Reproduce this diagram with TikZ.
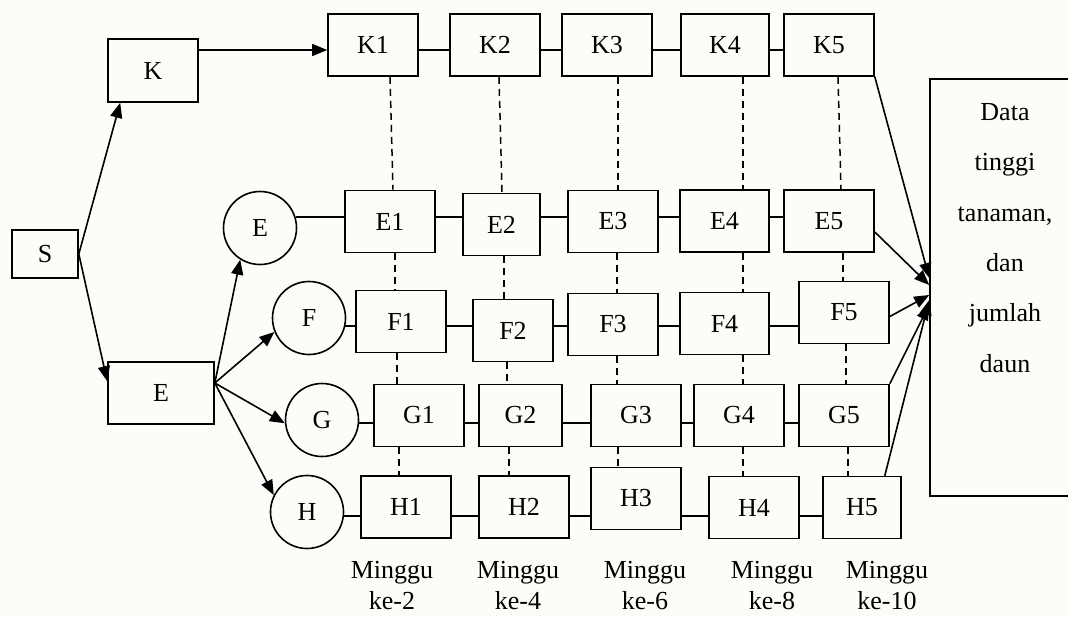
\documentclass[tikz,border=0pt]{standalone}
\usepackage{fontspec}
\setmainfont{Liberation Serif}
\usetikzlibrary{arrows.meta}
\definecolor{bgc}{RGB}{252,253,248}
\newcommand{\dashlink}[4]{\draw[dl] ([xshift=#2pt]#1.south) -- ([xshift=#4pt]#3.north);}
\begin{document}
\begin{tikzpicture}[x=1pt,y=-1pt,line width=1.6pt,
  font=\fontsize{26}{31}\selectfont,
  box/.style={draw, rectangle, minimum width=#1, minimum height=62pt, inner sep=0pt},
  box/.default=90pt,
  circ/.style={draw, circle, minimum size=73pt, inner sep=0pt},
  dl/.style={dash pattern=on 7pt off 5pt, line width=1.5pt},
  arr/.style={-{Triangle[length=15pt,width=12pt]}},
  lbl/.style={align=center, font=\fontsize{26}{31}\selectfont}]
\fill[bgc] (0,0) rectangle (1068,616);
\useasboundingbox (0,0) rectangle (1068,616);

% left part
\node[box=66pt, minimum height=48pt] (S) at (45,254) {S};
\node[box=90pt, minimum height=63pt] (K) at (153,70.5) {K};
\node[box=106pt] (Eb) at (161,393) {E};
\node[circ] (Ec) at (260,228) {E};
\node[circ] (Fc) at (309,318) {F};
\node[circ] (Gc) at (322,420) {G};
\node[circ] (Hc) at (307,512) {H};

% K row
\node[box] (K1) at (373,45) {K1};
\node[box] (K2) at (495,45) {K2};
\node[box] (K3) at (607,45) {K3};
\node[box=88pt] (K4) at (725,45) {K4};
\node[box] (K5) at (829,45) {K5};
% E row
\node[box] (E1) at (390,221.5) {E1};
\node[box=77pt] (E2) at (501.5,224.5) {E2};
\node[box] (E3) at (613,221.5) {E3};
\node[box=89pt] (E4) at (724.5,221) {E4};
\node[box] (E5) at (829,221) {E5};
% F row
\node[box] (F1) at (401,321.5) {F1};
\node[box=80pt] (F2) at (513,330.5) {F2};
\node[box] (F3) at (613,324.5) {F3};
\node[box=89pt] (F4) at (724.5,323.5) {F4};
\node[box] (F5) at (844,312.5) {F5};
% G row
\node[box] (G1) at (419,415.5) {G1};
\node[box=83pt] (G2) at (520.5,415.5) {G2};
\node[box] (G3) at (636,415.5) {G3};
\node[box] (G4) at (739,415.5) {G4};
\node[box] (G5) at (844,415.5) {G5};
% H row
\node[box] (H1) at (406,507) {H1};
\node[box] (H2) at (524,507) {H2};
\node[box] (H3) at (636,498.5) {H3};
\node[box] (H4) at (754,507.5) {H4};
\node[box=78pt] (H5) at (862,507.5) {H5};

% result box
\node[draw, rectangle, minimum width=150pt, minimum height=417pt, inner sep=0pt] (R) at (1005,287.5) {};
\node[align=center, font=\fontsize{26}{50.4}\selectfont] (Rt) at (1005,238) {Data\\tinggi\\tanaman,\\dan\\jumlah\\daun};

% week labels
\node[lbl] (W2) at (392,586) {Minggu\\ke-2};
\node[lbl] (W4) at (518,586) {Minggu\\ke-4};
\node[lbl] (W6) at (645,586) {Minggu\\ke-6};
\node[lbl] (W8) at (772,586) {Minggu\\ke-8};
\node[lbl] (W10) at (887,586) {Minggu\\ke-10};

% row line levels
\coordinate (rK) at (0,50);
\coordinate (rE) at (0,217);
\coordinate (rF) at (0,326);
\coordinate (rG) at (0,423);
\coordinate (rH) at (0,516);

% arrows on the left
\draw[arr] (S.east) -- ([xshift=13pt]K.south west);
\draw[arr] (S.east) -- ([yshift=-20pt]Eb.north west);
\draw[arr] ([yshift=10pt]Eb.east) -- (Ec.238);
\draw[arr] ([yshift=10pt]Eb.east) -- (Fc.202);
\draw[arr] ([yshift=10pt]Eb.east) -- (Gc.185);
\draw[arr] ([yshift=10pt]Eb.east) -- (Hc.153);
\draw[arr] (K.east |- rK) -- (K1.west |- rK);

% row connectors
\foreach \a/\b in {K1/K2,K2/K3,K3/K4,K4/K5} \draw (\a.east |- rK) -- (\b.west |- rK);
\foreach \a/\b in {E1/E2,E2/E3,E3/E4,E4/E5} \draw (\a.east |- rE) -- (\b.west |- rE);
\foreach \a/\b in {F1/F2,F2/F3,F3/F4,F4/F5} \draw (\a.east |- rF) -- (\b.west |- rF);
\foreach \a/\b in {G1/G2,G2/G3,G3/G4,G4/G5} \draw (\a.east |- rG) -- (\b.west |- rG);
\foreach \a/\b in {H1/H2,H2/H3,H3/H4,H4/H5} \draw (\a.east |- rH) -- (\b.west |- rH);
\draw (Ec.17) -- (E1.west |- Ec.17);
\draw (Fc.-12) -- (F1.west |- Fc.-12);
\draw (Gc.-5) -- (G1.west |- Gc.-5);
\draw (Hc.-6) -- (H1.west |- Hc.-6);

% dashed column links
\dashlink{K1}{17}{E1}{3}
\dashlink{K2}{4}{E2}{0.5}
\dashlink{K3}{11}{E3}{5}
\dashlink{K4}{18}{E4}{18.5}
\dashlink{K5}{9}{E5}{12}
\dashlink{E1}{5}{F1}{-6}
\dashlink{E2}{2.5}{F2}{-9}
\dashlink{E3}{4}{F3}{4}
\dashlink{E4}{18.5}{F4}{18.5}
\dashlink{E5}{14}{F5}{-1}
\dashlink{F1}{-4}{G1}{-22}
\dashlink{F2}{-6}{G2}{-13.5}
\dashlink{F3}{4}{G3}{-19}
\dashlink{F4}{18.5}{G4}{4}
\dashlink{F5}{2}{G5}{2}
\dashlink{G1}{-20}{H1}{-7}
\dashlink{G2}{-11.5}{H2}{-15}
\dashlink{G3}{-18}{H3}{-18}
\dashlink{G4}{4}{H4}{-11}
\dashlink{G5}{4}{H5}{-14}

% arrows into the result box
\draw[arr] (K5.south east) -- ([yshift=9.5pt]R.west);
\draw[arr] ([yshift=-11pt]E5.east) -- ([yshift=2.5pt]R.west);
\draw[arr] ([yshift=-4pt]F5.east) -- ([yshift=-7.5pt]R.west);
\draw[arr] (G5.north east) -- ([yshift=-17.5pt]R.west);
\draw[arr] ([xshift=-17pt]H5.north east) -- ([yshift=-12.5pt]R.west);
\end{tikzpicture}
\end{document}
